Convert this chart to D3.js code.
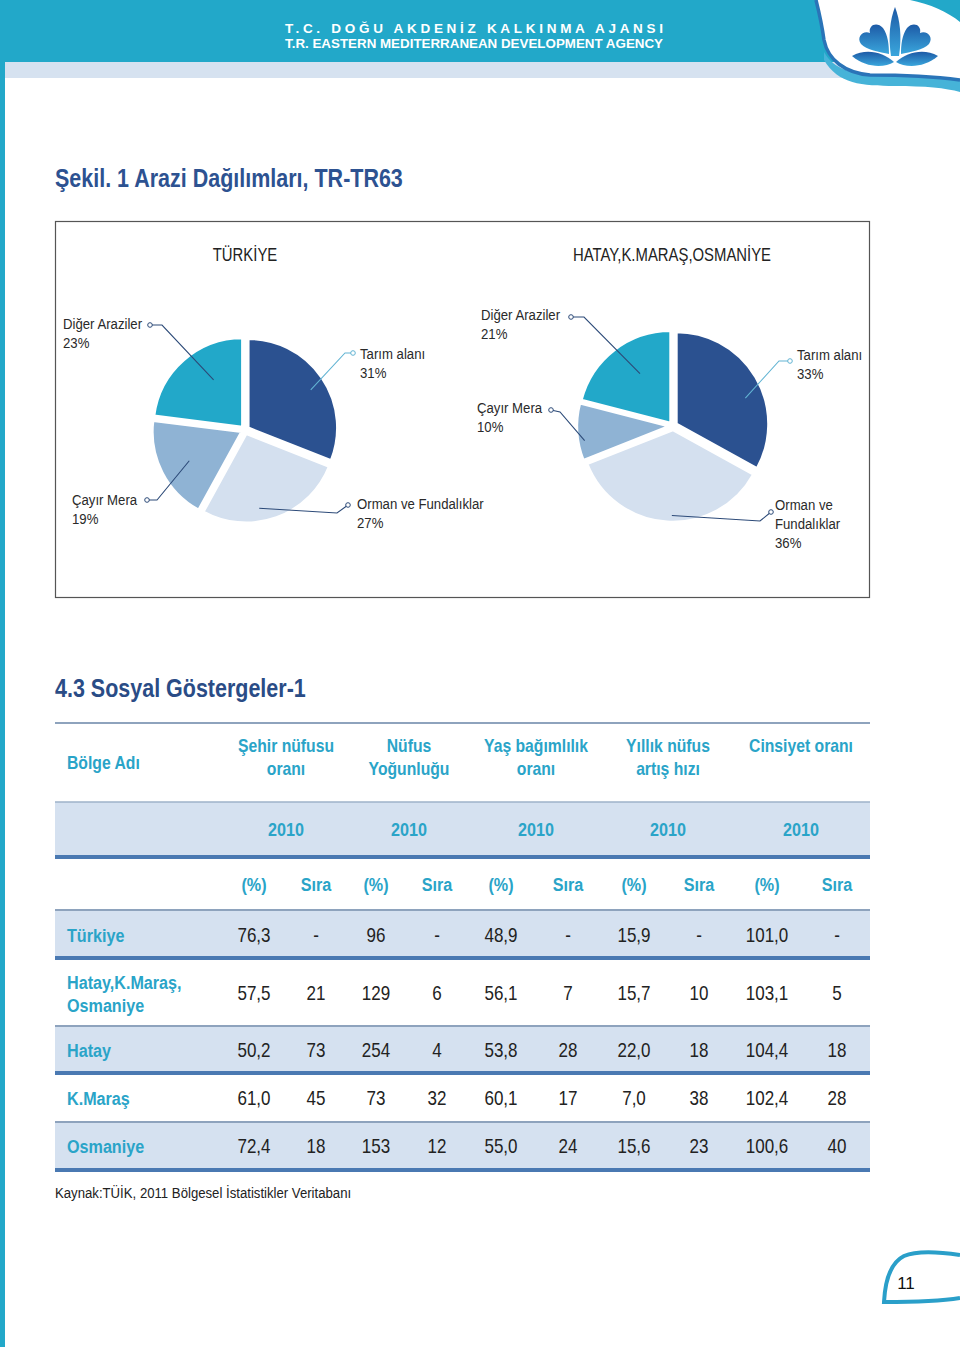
<!DOCTYPE html>
<html><head><meta charset="utf-8">
<script src="https://cdn.jsdelivr.net/npm/d3@7"></script>
<style>
body{margin:0;background:#fff;}
svg{display:block;}
text{font-family:"Liberation Sans",Arial,sans-serif;}
</style></head>
<body>
<svg id="c" width="960" height="1347"></svg>
<script>
// ---------- DATA ----------
const pieCategories = ["Tarım alanı", "Orman ve Fundalıklar", "Çayır Mera", "Diğer Araziler"];
const turkiyeValues = [31, 27, 19, 23];
const regionValues = [33, 36, 10, 21];
const pieTitles = ["TÜRKİYE", "HATAY,K.MARAŞ,OSMANİYE"];
const figureTitle = "Şekil. 1 Arazi Dağılımları, TR-TR63";
const sectionTitle = "4.3 Sosyal Göstergeler-1";
const indicatorHeaders = [["Şehir nüfusu", "oranı"], ["Nüfus", "Yoğunluğu"], ["Yaş bağımlılık", "oranı"], ["Yıllık nüfus", "artış hızı"], ["Cinsiyet oranı"]];
const years = ["2010", "2010", "2010", "2010", "2010"];
const regions = [["Türkiye"], ["Hatay,K.Maraş,", "Osmaniye"], ["Hatay"], ["K.Maraş"], ["Osmaniye"]];
const pctValues = [
  ["76,3", "96", "48,9", "15,9", "101,0"],
  ["57,5", "129", "56,1", "15,7", "103,1"],
  ["50,2", "254", "53,8", "22,0", "104,4"],
  ["61,0", "73", "60,1", "7,0", "102,4"],
  ["72,4", "153", "55,0", "15,6", "100,6"]
];
const rankValues = [
  ["-", "-", "-", "-", "-"],
  ["21", "6", "7", "10", "5"],
  ["73", "4", "28", "18", "18"],
  ["45", "32", "17", "38", "28"],
  ["18", "12", "24", "23", "40"]
];
const source = "Kaynak:TÜİK, 2011 Bölgesel İstatistikler Veritabanı";
const pageNumber = "11";

// ---------- STYLE ----------
const teal = "#22a8c9", band = "#d5e1f0";
const sliceColors = d3.scaleOrdinal().domain(pieCategories).range(["#2b5190", "#d4e0ef", "#8fb3d4", "#22a8c9"]);
const svg = d3.select("#c");
const SX = 0.85; // condensed look

function txt(g, x, y, s, o = {}) {
  const sx = o.sx || SX;
  return g.append("g").attr("transform", `translate(${x},${y}) scale(${sx},1)`)
    .append("text").attr("x", 0).attr("y", 0).text(s)
    .attr("font-size", o.size || 15).attr("fill", o.fill || "#2a2a2a")
    .attr("font-weight", o.weight || "normal").attr("text-anchor", o.anchor || "start");
}

// ---------- PAGE HEADER ----------
svg.append("rect").attr("x", 0).attr("y", 0).attr("width", 960).attr("height", 62).attr("fill", teal);
svg.append("rect").attr("x", 0).attr("y", 62).attr("width", 960).attr("height", 16).attr("fill", "#d6e2f0");
svg.append("rect").attr("x", 0).attr("y", 0).attr("width", 5).attr("height", 1347).attr("fill", teal);
svg.append("text").attr("x", 285).attr("y", 33).text("T.C. DOĞU AKDENİZ KALKINMA AJANSI")
  .attr("font-size", 13.5).attr("font-weight", "bold").attr("fill", "#fff")
  .attr("textLength", 378).attr("lengthAdjust", "spacing");
svg.append("text").attr("x", 285).attr("y", 48).text("T.R. EASTERN MEDITERRANEAN DEVELOPMENT AGENCY")
  .attr("font-size", 13).attr("font-weight", "bold").attr("fill", "#fff")
  .attr("textLength", 378).attr("lengthAdjust", "spacingAndGlyphs");

const defs = svg.append("defs");
const lg = defs.append("linearGradient").attr("id", "lg").attr("x1", 0).attr("y1", 0).attr("x2", 0).attr("y2", 1);
lg.append("stop").attr("offset", 0).attr("stop-color", "#1d5aa6");
lg.append("stop").attr("offset", 1).attr("stop-color", "#3aa6dc");
// logo corner
svg.append("path").attr("d", "M824,60 C838,84 862,86 895,86 C925,86 946,88 960,92 L960,80 C930,76 900,75 870,75 C846,73 832,66 824,52 Z").attr("fill", "#46b3d8");
svg.append("path").attr("d", "M816,0 L910,0 C930,4 948,12 960,22 L960,80 C930,76 900,75 870,75 C845,73 828,60 824,40 C822,25 819,12 816,0 Z").attr("fill", "#fff");
svg.append("path").attr("d", "M816,0 C819,12 822,25 824,40 C828,60 845,73 870,75 C900,75 930,76 960,80").attr("fill", "none").attr("stroke", "#2a74b8").attr("stroke-width", 3.5);
const logo = svg.append("g").attr("fill", "url(#lg)");
logo.append("path").attr("d", "M895,7 C900,20 902,36 899,56 L891,56 C888,36 890,20 895,7 Z");
logo.append("path").attr("d", "M889,54 C880,52 866,50 861,44 C856,37 863,30 870,33 C868,25 877,21 883,28 C888,35 889,45 889,54 Z");
logo.append("path").attr("d", "M901,54 C910,52 924,50 929,44 C934,37 927,30 920,33 C922,25 913,21 907,28 C902,35 901,45 901,54 Z");
logo.append("path").attr("d", "M852,56 C866,48 883,52 894,62 C884,68 866,68 852,56 Z");
logo.append("path").attr("d", "M938,56 C924,48 907,52 896,62 C906,68 924,68 938,56 Z");

// ---------- FIGURE TITLE ----------
txt(svg, 55, 187, figureTitle, {size: 25, weight: "bold", fill: "#2d5291", sx: 0.86});

// ---------- PIE CHARTS ----------
svg.append("rect").attr("x", 55.5).attr("y", 221.5).attr("width", 814).attr("height", 376)
  .attr("fill", "#fff").attr("stroke", "#555").attr("stroke-width", 1.2);

const pieGen = d3.pie().sort(null).value(d => d);
const pies = [
  {values: turkiyeValues, cx: 245, cy: 430, r: 89, title: pieTitles[0], tx: 245,
   labels: [
     {lines: ["Tarım alanı", "31%"], x: 360, y: 359, dot: [353, 353], elbow: [345, 353], f: 0.82, ao: 3, col: "#62b4d3"},
     {lines: ["Orman ve Fundalıklar", "27%"], x: 357, y: 509, dot: [348, 505], elbow: [337, 513], f: 0.85, ao: 10, col: "#2c4a78"},
     {lines: ["Çayır Mera", "19%"], x: 72, y: 505, dot: [147, 500], elbow: [157, 500], f: 0.67, ao: -2, col: "#2c4a78"},
     {lines: ["Diğer Araziler", "23%"], x: 63, y: 329, dot: [150, 325], elbow: [162, 325], f: 0.62, ao: 10, col: "#2c4a78"}
   ]},
  {values: regionValues, cx: 673, cy: 426, r: 92, title: pieTitles[1], tx: 672,
   labels: [
     {lines: ["Tarım alanı", "33%"], x: 797, y: 360, dot: [790, 361], elbow: [779, 361], f: 0.8, ao: 10, col: "#62b4d3"},
     {lines: ["Orman ve", "Fundalıklar", "36%"], x: 775, y: 510, dot: [771, 512], elbow: [760, 521], f: 0.93, ao: -3, col: "#2c4a78"},
     {lines: ["Çayır Mera", "10%"], x: 477, y: 413, dot: [551, 410], elbow: [560, 412], f: 0.93, ao: -6, col: "#2c4a78"},
     {lines: ["Diğer Araziler", "21%"], x: 481, y: 320, dot: [571, 317], elbow: [584, 317], f: 0.63, ao: 6, col: "#2c4a78"}
   ]}
];
const explode = 4;
pies.forEach(p => {
  const g = svg.append("g");
  txt(g, p.tx, 261, p.title, {size: 17.5, anchor: "middle", fill: "#222"});
  const arcs = pieGen(p.values);
  const arc = d3.arc().innerRadius(0).outerRadius(p.r);
  const pg = g.append("g").attr("transform", `translate(${p.cx},${p.cy})`);
  arcs.forEach((a, i) => {
    const mid = (a.startAngle + a.endAngle) / 2;
    const ox = explode * Math.sin(mid), oy = -explode * Math.cos(mid);
    pg.append("path").attr("d", arc(a)).attr("transform", `translate(${ox},${oy})`)
      .attr("fill", sliceColors(pieCategories[i])).attr("stroke", "#fff").attr("stroke-width", 2.5).attr("stroke-linejoin", "round");
  });
  arcs.forEach((a, i) => {
    const L = p.labels[i];
    const mid = (a.startAngle + a.endAngle) / 2;
    const ang = mid + L.ao * Math.PI / 180;
    const ix = p.cx + explode * Math.sin(mid) + L.f * p.r * Math.sin(ang);
    const iy = p.cy - explode * Math.cos(mid) - L.f * p.r * Math.cos(ang);
    g.append("polyline").attr("points", [[ix, iy], L.elbow, L.dot].map(q => q.join(",")).join(" "))
      .attr("fill", "none").attr("stroke", L.col).attr("stroke-width", 1.1);
    g.append("circle").attr("cx", L.dot[0]).attr("cy", L.dot[1]).attr("r", 2.3)
      .attr("fill", "#fff").attr("stroke", L.col).attr("stroke-width", 1);
    L.lines.forEach((s, k) => txt(g, L.x, L.y + k * 19, s, {size: 15.5, fill: "#2a2a2a"}));
  });
});

// ---------- TABLE ----------
txt(svg, 55, 697, sectionTitle, {size: 25, weight: "bold", fill: "#2a4c86", sx: 0.86});
const tl = 55, tr = 870, hcol = "#2aa4c8";
const groupX = d3.scaleOrdinal().domain(d3.range(5)).range([286, 409, 536, 668, 801]);
const pctX = d3.scaleOrdinal().domain(d3.range(5)).range([254, 376, 501, 634, 767]);
const rankX = d3.scaleOrdinal().domain(d3.range(5)).range([316, 437, 568, 699, 837]);
const rowY = d3.scaleOrdinal().domain(d3.range(5)).range([935, 993, 1050, 1098, 1146]);
const rowBounds = [[910, 958], [958, 1026], [1026, 1073], [1073, 1122], [1122, 1170]];
const T = svg.append("g");
T.append("rect").attr("x", tl).attr("y", 802).attr("width", tr - tl).attr("height", 55).attr("fill", band);
rowBounds.forEach((b, i) => {
  if (i % 2 === 0) T.append("rect").attr("x", tl).attr("y", b[0]).attr("width", tr - tl).attr("height", b[1] - b[0]).attr("fill", band);
});
function hline(y, w, c) { T.append("rect").attr("x", tl).attr("y", y - w / 2).attr("width", tr - tl).attr("height", w).attr("fill", c); }
hline(723, 2, "#8ea3bd");
hline(802, 1.5, "#9fb2c9");
hline(857, 4, "#4a79b2");
hline(910, 2, "#8ea3bd");
rowBounds.forEach((b, i) => {
  if (i % 2 === 0) hline(b[1], 4, "#4a79b2"); else hline(b[1], 2, "#8ea3bd");
});
txt(T, 67, 769, "Bölge Adı", {size: 18.5, weight: "bold", fill: hcol});
indicatorHeaders.forEach((h, i) => {
  h.forEach((s, k) => txt(T, groupX(i), 752 + k * 23, s, {size: 18.5, weight: "bold", fill: hcol, anchor: "middle"}));
  txt(T, groupX(i), 836, years[i], {size: 19, weight: "bold", fill: hcol, anchor: "middle"});
  txt(T, pctX(i), 891, "(%)", {size: 19, weight: "bold", fill: hcol, anchor: "middle"});
  txt(T, rankX(i), 891, "Sıra", {size: 19, weight: "bold", fill: hcol, anchor: "middle"});
});
regions.forEach((r, j) => {
  const y = rowY(j);
  if (r.length === 1) txt(T, 67, y + 7, r[0], {size: 19, weight: "bold", fill: hcol});
  else r.forEach((s, k) => txt(T, 67, y - 4 + k * 23, s, {size: 19, weight: "bold", fill: hcol}));
  pctValues[j].forEach((v, i) => txt(T, pctX(i), y + 7, v, {size: 20, anchor: "middle", fill: "#222"}));
  rankValues[j].forEach((v, i) => txt(T, rankX(i), y + 7, v, {size: 20, anchor: "middle", fill: "#222"}));
});
txt(svg, 55, 1198, source, {size: 15.5, fill: "#222"});

// ---------- PAGE NUMBER ----------
svg.append("path").attr("d", "M960,1255 C940,1252 918,1250 904,1256 C890,1263 885,1283 884,1302 C905,1302 935,1302 960,1298")
  .attr("fill", "#fff").attr("stroke", "#2a9fc9").attr("stroke-width", 4);
svg.append("text").attr("x", 906).attr("y", 1289).text(pageNumber).attr("font-size", 17).attr("fill", "#111").attr("text-anchor", "middle");
</script>
</body></html>
